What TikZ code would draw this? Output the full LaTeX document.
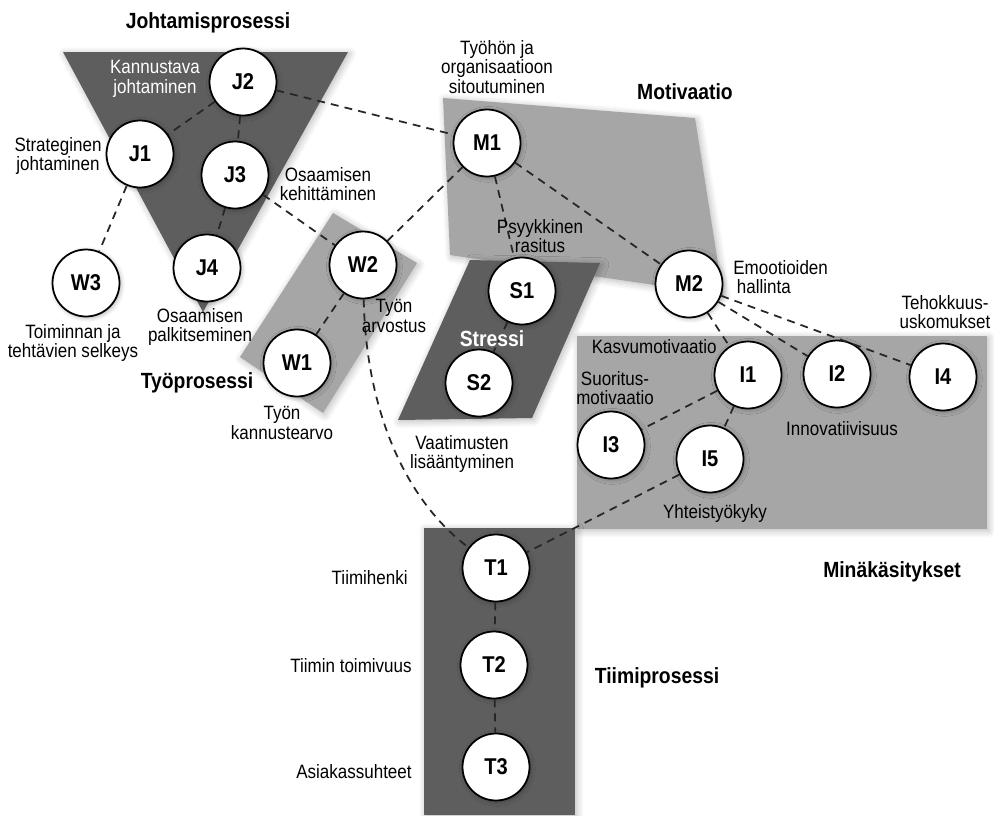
\documentclass[tikz,border=0pt]{standalone}
\usepackage{fontspec}
\setmainfont{Liberation Sans}[FakeStretch=0.88]
\usetikzlibrary{shadows.blur}
\definecolor{darkarea}{gray}{0.37}
\definecolor{lightarea}{gray}{0.65}

\begin{document}
\begin{tikzpicture}[x=0.02cm, y=-0.02cm,
  region/.style={blur shadow={shadow xshift=1pt, shadow yshift=-1pt, shadow blur radius=4pt, shadow blur steps=8, shadow opacity=28}},
  circ/.style={circle, draw, fill=white, line width=1pt, minimum size=1.34cm, inner sep=0pt,
    font=\fontsize{13}{13}\selectfont\bfseries,
    blur shadow={shadow xshift=0.8pt, shadow yshift=-0.8pt, shadow blur radius=2.5pt, shadow blur steps=6, shadow opacity=30}},
  link/.style={dash pattern=on 4.5pt off 3.5pt, line width=1pt, black!85},
  lbl/.style={align=center, inner sep=0pt, font=\fontsize{11}{11}\selectfont},
  heading/.style={inner sep=0pt, font=\fontsize{12.5}{12.5}\selectfont\bfseries}]
  \useasboundingbox (0,0) rectangle (994,815);

  % areas
  \fill[lightarea, region] (443,98) -- (695,118) -- (723,295) -- (450,255) -- cycle;
  \fill[darkarea, region] (470,260) -- (600,263) -- (532,418) -- (398,420) -- cycle;
  \fill[lightarea, region] (240,357) -- (333,213) -- (417,263) -- (323,413) -- cycle;
  \fill[darkarea, region] (63,52) -- (348,52) -- (203,312) -- cycle;
  \fill[lightarea, region] (577,336) rectangle (987,529);
  \fill[darkarea, region] (424,528) rectangle (575,815);

  \node[circ] (J2) at (243,82) {J2};
  \node[circ] (J1) at (140,154) {J1};
  \node[circ] (J3) at (235,175) {J3};
  \node[circ] (J4) at (207,268) {J4};
  \node[circ] (W3) at (86,283) {W3};
  \node[circ] (W2) at (363,265) {W2};
  \node[circ] (W1) at (297,363) {W1};
  \node[circ] (M1) at (487,143) {M1};
  \node[circ] (S1) at (522,291) {S1};
  \node[circ] (S2) at (479,383) {S2};
  \node[circ] (M2) at (689,284) {M2};
  \node[circ] (I1) at (748,375) {I1};
  \node[circ] (I2) at (837,374) {I2};
  \node[circ] (I4) at (943,377) {I4};
  \node[circ] (I3) at (611,445) {I3};
  \node[circ] (I5) at (710,459) {I5};
  \node[circ] (T1) at (496,568) {T1};
  \node[circ] (T2) at (494,665) {T2};
  \node[circ] (T3) at (496,767) {T3};

  \draw[link] (J2) -- (J1);
  \draw[link] (J2) -- (J3);
  \draw[link] (J3) -- (J4);
  \draw[link] (J1) -- (W3);
  \draw[link] (J3) -- (W2);
  \draw[link] (J2) -- (M1);
  \draw[link] (W2) -- (M1);
  \draw[link] (W2) -- (W1);
  \draw[link] (M1) -- (S1);
  \draw[link] (S1) -- (S2);
  \draw[link] (M1) -- (M2);
  \draw[link] (M2) -- (I1);
  \draw[link] (M2) -- (I2);
  \draw[link] (M2) -- (I4);
  \draw[link] (I1) -- (I3);
  \draw[link] (I1) -- (I5);
  \draw[link] (I5) -- (T1);
  \draw[link] (T1) -- (T2);
  \draw[link] (T2) -- (T3);
  \draw[link] (W2) .. controls (366,410) and (405,500) .. (T1);

  \node[heading] (johto) at (208,23) {Johtamisprosessi};
  \node[lbl, white] (kannustava) at (155,79) {Kannustava\\johtaminen};
  \node[lbl] (strateginen) at (58,156) {Strateginen\\johtaminen};
  \node[lbl] (kehitys) at (328,184) {Osaamisen\\kehittäminen};
  \node[lbl] (palkitsem) at (200,327) {Osaamisen\\palkitseminen};
  \node[lbl] (selkeys) at (73,343) {Toiminnan ja\\tehtävien selkeys};
  \node[lbl] (arvostus) at (394,316) {Työn\\arvostus};
  \node[heading] (tyopros) at (197,383) {Työprosessi};
  \node[lbl] (kannuste) at (282,423) {Työn\\kannustearvo};
  \node[lbl] (sitout) at (497,67) {Työhön ja\\organisaatioon\\sitoutuminen};
  \node[heading] (motiv) at (685,92) {Motivaatio};
  \node[lbl] (rasitus) at (540,236) {Psyykkinen\\rasitus};
  \node[heading, white] (stressi) at (492,339) {Stressi};
  \node[lbl] (vaatim) at (462,454) {Vaatimusten\\lisääntyminen};
  \node[lbl, anchor=west, align=left] (emootio) at (733,277) {Emootioiden\\\hspace*{2pt}hallinta};
  \node[lbl] (tehokkuus) at (945,312) {Tehokkuus-\\uskomukset};
  \node[lbl, anchor=east] (kasvu) at (717,347) {Kasvumotivaatio};
  \node[lbl] (suoritus) at (615,388) {Suoritus-\\motivaatio};
  \node[lbl] (innov) at (842,429) {Innovatiivisuus};
  \node[lbl] (yhteis) at (715,513) {Yhteistyökyky};
  \node[heading] (mina) at (892,572) {Minäkäsitykset};
  \node[heading] (tiimi) at (657,678) {Tiimiprosessi};
  \node[lbl, anchor=east] (henki) at (408,578) {Tiimihenki};
  \node[lbl, anchor=east] (toimivuus) at (412,666) {Tiimin toimivuus};
  \node[lbl, anchor=east] (asiakas) at (412,772) {Asiakassuhteet};
\end{tikzpicture}
\end{document}
